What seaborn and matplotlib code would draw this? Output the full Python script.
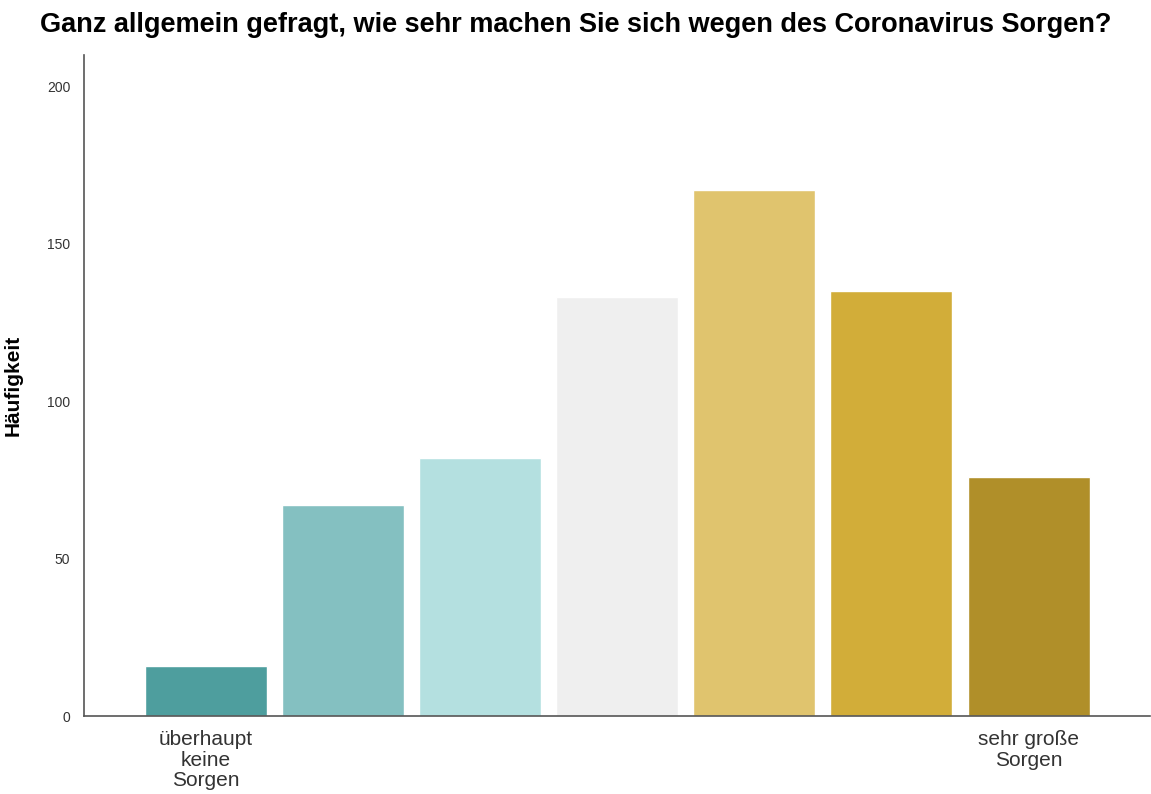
import pandas as pd
import matplotlib
matplotlib.use('Agg')
import matplotlib.pyplot as plt
import seaborn as sns

# data
categories = ['1', '2', '3', '4', '5', '6', '7']
counts = [16, 67, 82, 133, 167, 135, 76]
tick_labels = ['überhaupt\nkeine\nSorgen', '', '', '', '', '', 'sehr große\nSorgen']
colors = ['#4e9e9e', '#84c0c1', '#b4e0e0', '#efefef', '#e0c46e', '#d2ad39', '#b08f29']

df = pd.DataFrame({'cat': categories, 'count': counts})

sns.set_style('white')
plt.rcParams['font.family'] = ['Liberation Sans', 'DejaVu Sans']

fig = plt.figure(figsize=(11.51, 7.94), dpi=100)
ax = fig.add_axes([0.073, 0.098, 0.926, 0.833])
sns.barplot(data=df, x='cat', y='count', hue='cat', palette=colors,
            legend=False, width=0.89, saturation=1, ax=ax)

ax.set_xlim(-0.889, 6.885)
ax.set_ylim(0, 210)
ax.set_yticks([0, 50, 100, 150, 200])
ax.set_xticks(range(len(categories)))
ax.set_xticklabels(tick_labels, fontsize=15, color='#333333', linespacing=1.1)
ax.tick_params(axis='y', labelsize=10, colors='#333333', length=0, pad=10)
ax.tick_params(axis='x', length=0, pad=10)
ax.set_xlabel('')
ax.set_ylabel('Häufigkeit', fontsize=15, fontweight='bold', color='black')
ax.yaxis.set_label_coords(-0.058, 0.5)

for s in ['top', 'right']:
    ax.spines[s].set_visible(False)
for s in ['left', 'bottom']:
    ax.spines[s].set_color('#555555')
    ax.spines[s].set_linewidth(1.2)

fig.suptitle('Ganz allgemein gefragt, wie sehr machen Sie sich wegen des Coronavirus Sorgen?',
             fontsize=19.5, fontweight='bold', color='black', x=0.5, y=0.985)

plt.savefig('out.png', dpi=100)
